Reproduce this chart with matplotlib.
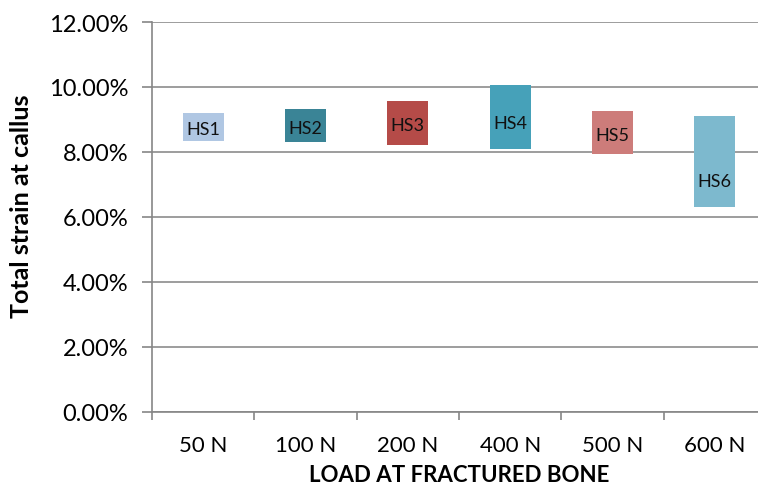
import matplotlib.pyplot as plt
from matplotlib.ticker import FuncFormatter, FixedLocator

loads = ["50 N", "100 N", "200 N", "400 N", "500 N", "600 N"]
names = ["HS1", "HS2", "HS3", "HS4", "HS5", "HS6"]
low = [8.33, 8.30, 8.20, 8.10, 7.93, 6.29]
high = [9.21, 9.31, 9.58, 10.06, 9.27, 9.09]
colors = ["#B0C7E3", "#3A8496", "#B54B48", "#46A1B9", "#CD7C7A", "#7DB9CE"]

plt.rcParams['font.family'] = ['Lato', 'DejaVu Sans']

fig = plt.figure(figsize=(7.58, 4.89), dpi=100)
ax = fig.add_axes([152/758, 1 - 412.5/489, 614/758, 389.5/489])

x = list(range(len(loads)))
heights = [h - l for l, h in zip(low, high)]
ax.bar(x, heights, bottom=low, width=0.4, color=colors, zorder=3)

for i in x:
    ty = low[i] + min(0.8, heights[i] / 2 - 0.07)
    ax.text(i, ty, names[i], ha="center", va="center", fontsize=13, color="#111111", zorder=4)

ax.set_xlim(-0.5, 5.5)
ax.set_ylim(0, 12)
ax.set_yticks([0, 2, 4, 6, 8, 10, 12])
ax.yaxis.set_major_formatter(FuncFormatter(lambda v, p: "%.2f%%" % v))
ax.grid(axis="y", color="#8C8C8C", linewidth=1.2, zorder=0)

ax.set_xticks(x)
ax.set_xticklabels(loads)
ax.xaxis.set_minor_locator(FixedLocator([i - 0.5 for i in range(len(loads) + 1)]))
ax.tick_params(axis="x", which="major", length=0, pad=17, labelsize=16)
ax.tick_params(axis="x", which="minor", length=6, color="#868686", width=1.2)
ax.tick_params(axis="y", length=7, color="#868686", width=1.2, labelsize=17, pad=10)

for s in ["top", "right"]:
    ax.spines[s].set_visible(False)
for s in ["left", "bottom"]:
    ax.spines[s].set_color("#868686")
    ax.spines[s].set_linewidth(1.2)

fig.text(459/758, 1 - 476/489, "LOAD AT FRACTURED BONE", fontsize=16, fontweight="bold",
         ha="center", va="center")
fig.text(22/758, 1 - 206/489, "Total strain at callus", fontsize=18, fontweight="bold",
         rotation=90, ha="center", va="center")

fig.savefig("out.png", dpi=100)
